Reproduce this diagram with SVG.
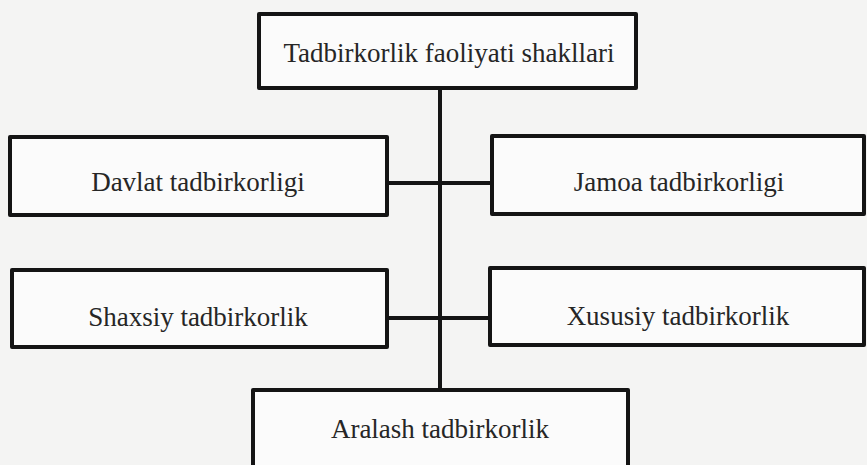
<svg xmlns="http://www.w3.org/2000/svg" width="867" height="465" viewBox="0 0 867 465">
<style>
.box{fill:#fbfbfb;stroke:#141414;stroke-width:4;stroke-linejoin:round}
.lbl{font-family:"Liberation Serif","Times New Roman",serif;font-size:27px;fill:#262626;text-anchor:middle}
.con{stroke:#141414;stroke-width:4;fill:none}
</style>
<rect width="867" height="465" fill="#f4f4f3"/>
<g id="connectors">
<line class="con" x1="440" y1="88" x2="440" y2="390"/>
<line class="con" x1="387" y1="183" x2="492" y2="183"/>
<line class="con" x1="387" y1="318" x2="490" y2="318"/>
</g>
<g id="n-top">
<rect class="box" x="259" y="14" width="377" height="74"/>
<text class="lbl" x="449" y="62">Tadbirkorlik faoliyati shakllari</text>
</g>
<g id="n-davlat">
<rect class="box" x="10" y="137" width="377" height="78"/>
<text class="lbl" x="198" y="191">Davlat tadbirkorligi</text>
</g>
<g id="n-jamoa">
<rect class="box" x="492" y="136" width="372" height="78"/>
<text class="lbl" x="679" y="191">Jamoa tadbirkorligi</text>
</g>
<g id="n-shaxsiy">
<rect class="box" x="12" y="270" width="375" height="77"/>
<text class="lbl" x="198" y="326">Shaxsiy tadbirkorlik</text>
</g>
<g id="n-xususiy">
<rect class="box" x="490" y="268" width="374" height="77"/>
<text class="lbl" x="678" y="325">Xususiy tadbirkorlik</text>
</g>
<g id="n-aralash">
<rect class="box" x="253" y="390" width="375" height="85"/>
<text class="lbl" x="440" y="438">Aralash tadbirkorlik</text>
</g>
</svg>
